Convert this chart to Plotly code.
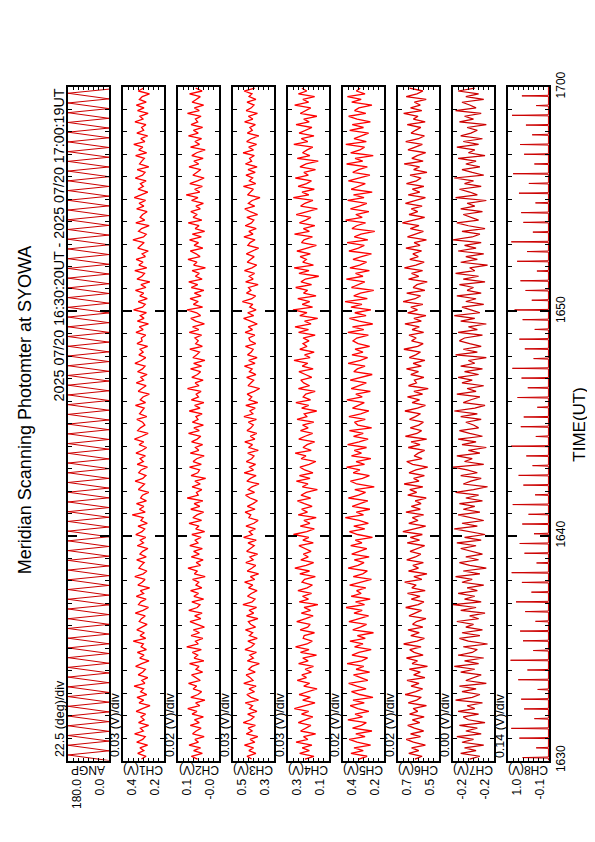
import plotly.graph_objects as go

W, H = 595, 842

# ---------------- data ----------------
channel_names = ["ANGP", "CH1(V)", "CH2(V)", "CH3(V)", "CH4(V)", "CH5(V)", "CH6(V)", "CH7(V)", "CH8(V)"]
per_div_labels = ["22.5 (deg)/div", "0.03 (V)/div", "0.02 (V)/div", "0.03 (V)/div", "0.03 (V)/div",
                  "0.02 (V)/div", "0.02 (V)/div", "0.00 (V)/div", "0.14 (V)/div"]
panel_max = [180.0, 0.42, 0.14, 0.53, 0.33, 0.38, 0.70, -0.162, 1.02]
panel_min = [0.0, 0.18, -0.02, 0.29, 0.09, 0.22, 0.54, -0.194, -0.10]
max_labels = ["180.0", "0.4", "0.1", "0.5", "0.3", "0.4", "0.7", "-0.2", "1.0"]
min_labels = ["0.0", "0.2", "-0.0", "0.3", "0.1", "0.2", "0.5", "-0.2", "-0.1"]

time_tick_min = [0, 10, 20, 30]
time_tick_text = ["1630", "1640", "1650", "1700"]

title_text = "Meridian Scanning Photomter at SYOWA"
period_text = "2025 07/20 16:30:20UT - 2025 07/20 17:00:19UT"
time_axis_title = "TIME(UT)"

# scan angle turning points (deg), up-sweep 15 s, down-sweep 11 s
angp_deg = [0.0, 180.0, 0.0, 180.0, 0.0, 180.0, 0.0, 180.0, 0.0, 180.0,
            0.0, 180.0, 0.0, 180.0, 0.0, 180.0, 0.0, 180.0, 0.0, 180.0,
            0.0, 180.0, 0.0, 180.0, 0.0, 180.0, 0.0, 180.0, 0.0, 180.0,
            0.0, 180.0, 0.0, 180.0, 0.0, 180.0, 0.0, 180.0, 0.0, 180.0,
            0.0, 180.0, 0.0, 180.0, 0.0, 180.0, 0.0, 180.0, 0.0, 180.0,
            0.0, 180.0, 0.0, 180.0, 0.0, 180.0, 0.0, 180.0, 0.0, 180.0,
            0.0, 180.0, 0.0, 180.0, 0.0, 180.0, 0.0, 180.0, 0.0, 180.0,
            0.0, 180.0, 0.0, 180.0, 0.0, 180.0, 0.0, 180.0, 0.0, 180.0,
            0.0, 180.0, 0.0, 180.0, 0.0, 180.0, 0.0, 180.0, 0.0, 180.0,
            0.0, 180.0, 0.0, 180.0, 0.0, 180.0, 0.0, 180.0, 0.0, 180.0,
            0.0, 180.0, 0.0, 180.0, 0.0, 180.0, 0.0, 180.0, 0.0, 180.0,
            0.0, 180.0, 0.0, 180.0, 0.0, 180.0, 0.0, 180.0, 0.0, 180.0,
            0.0, 180.0, 0.0, 180.0, 0.0, 180.0, 0.0, 180.0, 0.0, 180.0,
            0.0, 180.0, 0.0, 180.0, 0.0, 180.0, 0.0, 180.0, 0.0]
angp_sweep_s = [15.0, 11.0]

# photometer channels, mV, one sample every 7.5 s from 16:30:04
ch1_mv = [312, 285, 334, 298, 321, 276, 340, 305, 290, 352, 301, 318, 270, 329, 296,
          315, 288, 343, 307, 262, 326, 299, 338, 281, 317, 300, 355, 292, 310, 275,
          331, 304, 289, 346, 311, 268, 322, 297, 336, 283, 314, 301, 360, 287, 320,
          295, 339, 306, 279, 325, 312, 290, 348, 303, 271, 329, 316, 285, 342, 299,
          318, 264, 333, 308, 291, 351, 302, 280, 327, 313, 296, 340, 284, 321, 305,
          274, 336, 300, 319, 287, 345, 309, 293, 332, 278, 315, 302, 366, 290, 324,
          298, 341, 283, 317, 306, 269, 330, 311, 294, 349, 304, 286, 328, 314, 277,
          337, 301, 320, 289, 344, 307, 282, 326, 299, 353, 310, 273, 334, 318, 292,
          305, 339, 281, 323, 312, 296, 347, 288, 319, 303, 266, 331, 309, 285, 342,
          300, 316, 279, 335, 306, 291, 350, 313, 287, 327, 302, 320, 276, 338, 308,
          313, 287, 344, 302, 325, 271, 336, 297, 319, 283, 358, 306, 290, 331, 278,
          322, 299, 347, 286, 315, 263, 338, 309, 294, 351, 281, 327, 303, 343, 289,
          308, 272, 334, 317, 296, 362, 300, 284, 329, 311, 267, 345, 293, 320, 305,
          279, 340, 298, 326, 288, 354, 314, 275, 332, 301, 318, 285, 348, 306, 291,
          337, 269, 323, 310, 295, 346, 282, 328, 304, 357, 292, 316, 276, 339, 299,
          311, 286, 350, 303, 321, 273, 335, 297, 342, 284, 324, 307, 265, 330, 301]
ch2_mv = [64, 88, 45, 79, 52, 97, 60, 74, 38, 83, 69, 50, 92, 57, 76,
          41, 85, 66, 102, 55, 71, 35, 90, 62, 48, 81, 67, 99, 53, 73,
          87, 44, 70, 58, 95, 39, 77, 63, 84, 49, 106, 61, 72, 43, 89,
          56, 80, 37, 68, 93, 51, 75, 46, 98, 65, 54, 86, 40, 78, 60,
          91, 47, 70, 59, 83, 34, 76, 64, 101, 52, 69, 42, 88, 57, 79,
          45, 94, 62, 73, 50, 86, 36, 71, 58, 97, 48, 82, 66, 40, 90,
          55, 77, 43, 104, 61, 68, 47, 85, 53, 74, 32, 89, 63, 56, 95,
          49, 81, 67, 38, 92, 59, 72, 44, 87, 65, 51, 99, 57, 78, 41,
          84, 62, 70, 46, 96, 54, 75, 39, 88, 60, 69, 50, 103, 58, 73,
          42, 86, 64, 52, 91, 48, 79, 35, 82, 67, 56, 94, 45, 71, 61,
          74, 48, 96, 59, 83, 37, 71, 90, 52, 67, 105, 44, 80, 61, 93,
          50, 76, 39, 88, 63, 98, 46, 72, 57, 85, 33, 79, 66, 101, 54,
          69, 92, 43, 77, 60, 95, 49, 84, 36, 73, 58, 100, 47, 81, 65,
          90, 53, 70, 41, 87, 62, 108, 55, 75, 45, 94, 64, 38, 82, 68,
          51, 97, 59, 78, 42, 86, 67, 34, 91, 56, 74, 48, 99, 61, 80,
          44, 89, 63, 72, 50, 103, 57, 76, 40, 85, 69, 53, 95, 46, 71]
ch3_mv = [421, 448, 396, 437, 410, 463, 402, 430, 385, 452, 418, 441, 399, 470, 426,
          407, 444, 390, 433, 416, 458, 381, 425, 449, 404, 436, 395, 467, 413, 429,
          453, 400, 438, 419, 376, 446, 411, 432, 393, 460, 422, 405, 443, 388, 434,
          415, 457, 398, 427, 440, 384, 451, 409, 436, 392, 472, 418, 401, 445, 423,
          389, 439, 414, 462, 403, 428, 380, 447, 420, 397, 455, 412, 431, 386, 450,
          424, 406, 442, 394, 468, 417, 435, 399, 454, 408, 383, 437, 426, 459, 401,
          446, 413, 387, 430, 456, 404, 441, 419, 378, 449, 428, 395, 464, 410, 433,
          398, 452, 421, 407, 444, 382, 439, 416, 461, 402, 429, 391, 448, 425, 411,
          440, 393, 466, 414, 431, 400, 455, 385, 436, 420, 447, 406, 374, 442, 427,
          409, 450, 396, 434, 418, 463, 401, 438, 389, 445, 423, 412, 457, 397, 430,
          437, 402, 459, 416, 441, 388, 427, 468, 409, 444, 395, 432, 414, 475, 420,
          398, 451, 425, 439, 383, 456, 412, 435, 404, 463, 419, 391, 447, 428, 406,
          452, 417, 380, 443, 430, 401, 466, 413, 437, 394, 458, 422, 408, 449, 386,
          429, 461, 403, 440, 418, 372, 445, 426, 411, 469, 397, 434, 415, 454, 400,
          442, 389, 457, 421, 433, 405, 471, 410, 438, 392, 450, 424, 379, 446, 417,
          431, 399, 462, 414, 440, 387, 453, 423, 407, 448, 396, 436, 419, 465, 403]
ch4_mv = [231, 178, 262, 205, 247, 190, 283, 214, 239, 168, 256, 221, 196, 270, 228,
          185, 251, 209, 293, 226, 172, 244, 199, 265, 217, 160, 238, 203, 276, 222,
          249, 193, 230, 181, 268, 212, 244, 163, 257, 207, 286, 219, 188, 241, 235,
          175, 259, 215, 200, 279, 227, 183, 252, 198, 236, 155, 264, 210, 245, 192,
          272, 218, 187, 248, 233, 170, 261, 204, 290, 224, 180, 255, 211, 240, 195,
          229, 266, 182, 243, 208, 298, 220, 176, 258, 202, 237, 165, 270, 216, 250,
          189, 234, 275, 197, 254, 223, 158, 246, 213, 281, 201, 263, 184, 232, 260,
          206, 167, 253, 225, 288, 194, 242, 218, 174, 267, 230, 186, 257, 212, 245,
          179, 277, 220, 235, 162, 250, 209, 284, 198, 241, 226, 171, 269, 204, 238,
          255, 191, 228, 266, 183, 247, 214, 295, 201, 233, 177, 261, 219, 242, 207,
          242, 171, 268, 210, 289, 195, 233, 156, 261, 219, 301, 186, 247, 203, 273,
          166, 239, 215, 285, 192, 254, 228, 150, 266, 207, 294, 181, 244, 223, 259,
          199, 278, 213, 164, 251, 236, 187, 292, 205, 240, 173, 263, 226, 196, 282,
          217, 158, 256, 231, 184, 299, 208, 248, 176, 271, 221, 193, 287, 211, 237,
          169, 260, 224, 153, 276, 202, 245, 218, 185, 296, 214, 252, 178, 265, 227,
          190, 283, 206, 238, 161, 258, 230, 197, 291, 209, 243, 174, 269, 220, 249]
ch5_mv = [318, 286, 349, 301, 337, 272, 325, 356, 294, 330, 267, 343, 308, 289, 361,
          304, 333, 279, 322, 352, 297, 341, 263, 315, 347, 290, 326, 358, 283, 311,
          339, 276, 329, 299, 364, 307, 284, 345, 318, 270, 335, 302, 353, 293, 324,
          261, 342, 312, 288, 357, 320, 280, 337, 305, 368, 296, 331, 274, 348, 309,
          327, 291, 354, 316, 269, 340, 303, 285, 360, 321, 298, 336, 278, 346, 313,
          287, 350, 306, 332, 265, 323, 355, 295, 338, 281, 317, 371, 300, 328, 275,
          344, 310, 283, 359, 319, 292, 334, 258, 326, 351, 304, 277, 340, 314, 366,
          296, 329, 271, 347, 308, 336, 288, 362, 317, 282, 339, 301, 355, 268, 322,
          335, 293, 357, 311, 279, 343, 320, 297, 365, 305, 330, 273, 348, 316, 289,
          352, 307, 266, 338, 324, 294, 360, 312, 284, 345, 302, 333, 276, 321, 341,
          326, 281, 361, 299, 343, 264, 317, 355, 290, 334, 271, 349, 306, 372, 285,
          338, 312, 260, 347, 323, 295, 367, 302, 331, 277, 353, 315, 288, 341, 308,
          269, 357, 320, 297, 364, 283, 336, 310, 256, 345, 327, 292, 370, 305, 330,
          279, 351, 316, 287, 362, 298, 339, 266, 348, 322, 293, 359, 311, 275, 342,
          319, 285, 366, 303, 333, 262, 350, 314, 296, 369, 289, 337, 307, 280, 354,
          300, 344, 273, 325, 358, 291, 335, 318, 267, 346, 309, 363, 294, 328, 313]
ch6_mv = [634, 606, 658, 619, 647, 593, 640, 668, 612, 651, 600, 636, 662, 615, 644,
          598, 655, 623, 641, 589, 660, 627, 609, 672, 631, 604, 649, 618, 665, 595,
          639, 613, 656, 585, 645, 624, 667, 602, 637, 654, 610, 678, 626, 597, 650,
          617, 661, 603, 643, 628, 591, 657, 633, 608, 670, 621, 599, 648, 614, 663,
          594, 646, 629, 674, 607, 638, 587, 659, 620, 642, 601, 666, 632, 611, 653,
          625, 596, 664, 616, 652, 605, 681, 635, 592, 658, 622, 644, 600, 669, 613,
          648, 610, 633, 590, 662, 627, 654, 603, 676, 618, 639, 597, 657, 630, 584,
          643, 666, 606, 637, 621, 596, 660, 614, 649, 588, 671, 626, 608, 652, 619,
          601, 655, 632, 612, 673, 624, 593, 645, 616, 663, 604, 638, 582, 659, 628,
          636, 599, 650, 620, 667, 609, 641, 595, 656, 631, 612, 677, 623, 602, 647,
          629, 657, 600, 645, 617, 673, 609, 638, 591, 662, 624, 650, 603, 680, 633,
          612, 666, 595, 641, 626, 586, 659, 619, 647, 604, 675, 630, 598, 654, 621,
          642, 608, 669, 614, 637, 589, 663, 627, 601, 652, 618, 683, 635, 596, 657,
          623, 648, 606, 671, 631, 593, 660, 615, 644, 599, 667, 628, 610, 653, 587,
          639, 616, 676, 602, 646, 625, 592, 661, 634, 605, 670, 620, 597, 649, 632,
          611, 664, 594, 640, 622, 678, 607, 651, 613, 636, 590, 668, 626, 603, 655]
ch7_mv = [-175, -183, -168, -180, -171, -186, -169, -178, -165, -184, -172, -181, -167, -187, -174,
          -170, -182, -166, -179, -173, -185, -164, -177, -183, -169, -180, -167, -188, -172, -178,
          -184, -168, -179, -163, -182, -171, -186, -166, -177, -181, -170, -189, -174, -167, -183,
          -169, -185, -172, -178, -165, -182, -175, -187, -168, -180, -162, -184, -171, -179, -166,
          -181, -173, -186, -169, -177, -164, -183, -170, -188, -175, -167, -182, -172, -185, -176,
          -168, -180, -165, -184, -171, -187, -174, -163, -181, -169, -186, -177, -166, -183, -170,
          -179, -167, -185, -172, -182, -164, -178, -189, -170, -176, -184, -168, -181, -173, -162,
          -186, -171, -177, -165, -183, -174, -188, -169, -180, -166, -185, -175, -167, -182, -178,
          -172, -184, -168, -181, -163, -179, -187, -170, -176, -183, -165, -180, -173, -186, -169,
          -177, -166, -182, -171, -185, -168, -179, -174, -188, -164, -181, -170, -184, -175, -167,
          -171, -185, -166, -181, -174, -188, -168, -179, -163, -183, -176, -169, -186, -172, -180,
          -165, -184, -173, -178, -167, -187, -170, -182, -164, -179, -175, -189, -168, -181, -172,
          -186, -166, -180, -171, -184, -162, -177, -183, -169, -187, -174, -165, -182, -176, -170,
          -185, -168, -179, -173, -188, -164, -181, -175, -167, -184, -171, -178, -163, -186, -177,
          -169, -183, -172, -180, -166, -187, -174, -179, -165, -182, -170, -185, -168, -176, -181,
          -173, -188, -167, -178, -171, -184, -164, -180, -175, -169, -186, -172, -182, -166, -179]
noise_start_s = 4.0
noise_step_s = 7.5

# CH8: one spike per scan (26 s period), baseline and peak values in V
ch8_base_v = -0.085
ch8_peak_v = [0.62, 0.25, 0.71, 0.93, 0.30, 0.58, 0.66, 0.21, 0.74, 0.49,
              0.95, 0.33, 0.61, 0.69, 0.27, 0.55, 0.80, 0.38, 0.64, 0.92,
              0.24, 0.57, 0.70, 0.31, 0.63, 0.46, 0.89, 0.28, 0.60, 0.73,
              0.35, 0.52, 0.94, 0.26, 0.67, 0.59, 0.22, 0.76, 0.48, 0.65,
              0.90, 0.32, 0.56, 0.71, 0.29, 0.62, 0.84, 0.37, 0.54, 0.68,
              0.23, 0.77, 0.50, 0.93, 0.34, 0.60, 0.66, 0.27, 0.72, 0.45,
              0.88, 0.30, 0.58, 0.69, 0.36, 0.53, 0.91, 0.25, 0.64]
ch8_first_s = 8.0
ch8_period_s = 26.0
ch8_halfwidth_s = 1.5

# ---------------- build series ----------------
angp_t = [0.0]
for i in range(1, len(angp_deg)):
    angp_t.append(angp_t[-1] + angp_sweep_s[(i - 1) % 2])
angp_min = [t / 60.0 for t in angp_t]

noise_channels = [ch1_mv, ch2_mv, ch3_mv, ch4_mv, ch5_mv, ch6_mv, ch7_mv]
noise_min = [(noise_start_s + i * noise_step_s) / 60.0 for i in range(len(ch1_mv))]

ch8_x, ch8_t = [ch8_base_v], [0.0]
for i, pk in enumerate(ch8_peak_v):
    tc = ch8_first_s + i * ch8_period_s
    ch8_x += [ch8_base_v, pk, ch8_base_v]
    ch8_t += [(tc - ch8_halfwidth_s) / 60.0, tc / 60.0, (tc + ch8_halfwidth_s) / 60.0]
ch8_x.append(ch8_base_v)
ch8_t.append(30.0)

series_x = [angp_deg] + [[v / 1000.0 for v in ch] for ch in noise_channels] + [ch8_x]
series_t = [angp_min] + [noise_min] * 7 + [ch8_t]

# ---------------- layout ----------------
FONT = "Liberation Sans, Arial, Helvetica, sans-serif"
trace_colors = ["#cc0000", "#ff0000", "#ff0000", "#ff0000", "#ff0000", "#ff0000",
                "#e00000", "#cc0000", "#cc0000"]
trace_widths = [1.0, 1.3, 1.3, 1.3, 1.3, 1.3, 1.3, 1.2, 1.0]
panel_left_px = [60 + 55 * k for k in range(9)]
panel_w_px = 41
top_px, bot_px = 66, 762
ydom = [1 - bot_px / H, 1 - top_px / H]

fig = go.Figure()
annotations = []
layout = dict(width=W, height=H, margin=dict(l=0, r=0, t=0, b=0),
              paper_bgcolor="white", plot_bgcolor="white", showlegend=False,
              font=dict(family=FONT, color="black", size=12))

for k in range(9):
    n = "" if k == 0 else str(k + 1)
    xa, ya = "x" + n, "y" + n
    fig.add_trace(go.Scatter(x=series_x[k], y=series_t[k], mode="lines",
                             line=dict(color=trace_colors[k], width=trace_widths[k]),
                             xaxis=xa, yaxis=ya, hoverinfo="skip"))
    lpx = panel_left_px[k]
    rpx = lpx + panel_w_px
    dx = (panel_max[k] - panel_min[k]) / 8.0
    layout["xaxis" + n] = dict(domain=[lpx / W, rpx / W], range=[panel_max[k], panel_min[k]],
                               anchor=ya, tick0=panel_min[k], dtick=dx, ticks="inside",
                               ticklen=3, tickwidth=1, tickcolor="black", mirror="ticks",
                               showline=True, linewidth=2, linecolor="black",
                               showticklabels=False, showgrid=False, zeroline=False)
    last = (k == 8)
    layout["yaxis" + n] = dict(domain=ydom, range=[0, 30], anchor=xa,
                               tickmode="array", tickvals=time_tick_min, ticktext=time_tick_text,
                               ticks="inside", ticklen=9, tickwidth=2, tickcolor="black",
                               minor=dict(dtick=1, ticks="inside", ticklen=4, tickwidth=1.3,
                                          tickcolor="black"),
                               mirror="ticks", showline=True, linewidth=2, linecolor="black",
                               showgrid=False, zeroline=False,
                               showticklabels=last, side="right" if last else "left",
                               tickangle=-90, tickfont=dict(size=12, family=FONT))
    annotations.append(dict(text=per_div_labels[k], x=(lpx - 8) / W, y=1 - (bot_px - 1) / H,
                            xref="paper", yref="paper", xanchor="center", yanchor="bottom",
                            textangle=-90, showarrow=False, font=dict(size=12.5, family=FONT)))
    annotations.append(dict(text=channel_names[k], x=(lpx + rpx) / 2 / W, y=1 - 763 / H,
                            xref="paper", yref="paper", xanchor="center", yanchor="top",
                            textangle=180, showarrow=False, font=dict(size=12, family=FONT)))
    annotations.append(dict(text=max_labels[k], x=lpx / W, y=1 - 779 / H,
                            xref="paper", yref="paper", xanchor="left", yanchor="top",
                            textangle=-90, showarrow=False, font=dict(size=12, family=FONT)))
    annotations.append(dict(text=min_labels[k], x=rpx / W, y=1 - 779 / H,
                            xref="paper", yref="paper", xanchor="right", yanchor="top",
                            textangle=-90, showarrow=False, font=dict(size=12, family=FONT)))

annotations.append(dict(text=title_text, x=17 / W, y=1 - 400 / H, xref="paper", yref="paper",
                        xanchor="center", yanchor="middle", textangle=-90, showarrow=False,
                        font=dict(size=18, family=FONT)))
annotations.append(dict(text=period_text, x=51 / W, y=1 - 66 / H, xref="paper", yref="paper",
                        xanchor="center", yanchor="top", textangle=-90, showarrow=False,
                        font=dict(size=14.3, family=FONT)))
annotations.append(dict(text=time_axis_title, x=572 / W, y=1 - 415 / H, xref="paper", yref="paper",
                        xanchor="center", yanchor="middle", textangle=-90, showarrow=False,
                        font=dict(size=17, family=FONT)))

layout["annotations"] = annotations
fig.update_layout(**layout)
fig.write_html("out.html")
